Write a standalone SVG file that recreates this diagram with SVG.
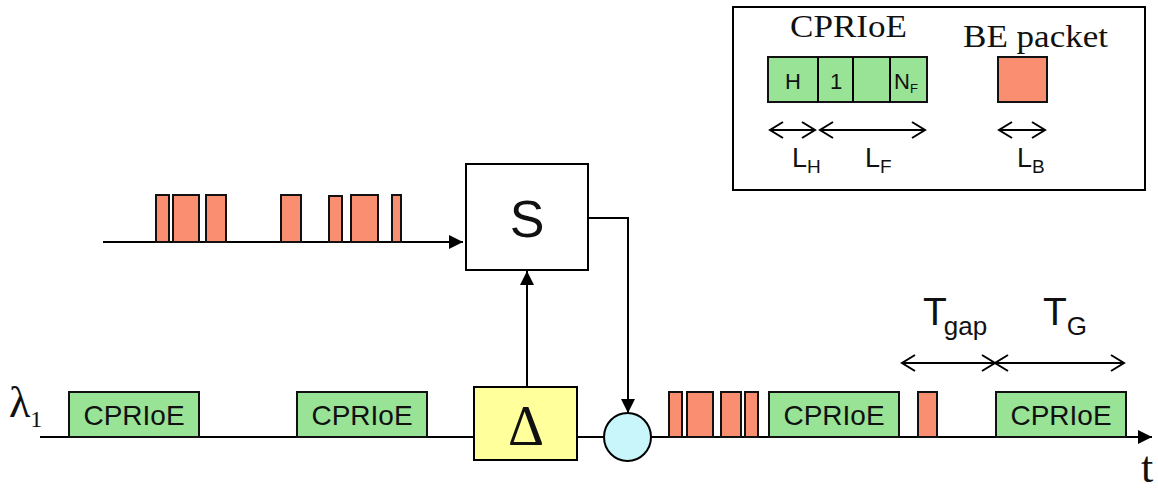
<svg xmlns="http://www.w3.org/2000/svg" width="1158" height="492" viewBox="0 0 1158 492">
<style>
.ln{stroke:#000;stroke-width:2;fill:none}
.cp{fill:#99e396;stroke:#111;stroke-width:2}
.be{fill:#fa8e70;stroke:#111;stroke-width:2}
.sans{font-family:"Liberation Sans",Arial,sans-serif;fill:#111}
.serif{font-family:"Liberation Serif","Times New Roman",serif;fill:#111}
.lbl{font-size:28px;text-anchor:middle}
</style>
<defs>
<marker id="fa" markerUnits="userSpaceOnUse" markerWidth="16" markerHeight="16" refX="14" refY="7" orient="auto"><path d="M0,0 L14,7 L0,14 z" fill="#000"/></marker>
<marker id="oa" markerUnits="userSpaceOnUse" markerWidth="18" markerHeight="20" refX="14" refY="9" orient="auto-start-reverse"><path d="M1,1 L14,9 L1,17" fill="none" stroke="#000" stroke-width="2"/></marker>
</defs>
<rect width="1158" height="492" fill="#fff"/>

<g id="legend">
<rect x="733" y="7" width="412" height="183" fill="#fff" stroke="#000" stroke-width="2"/>
<text class="serif" x="790" y="37" font-size="32" textLength="117" lengthAdjust="spacingAndGlyphs">CPRIoE</text>
<text class="serif" x="963" y="47" font-size="32" textLength="145" lengthAdjust="spacingAndGlyphs">BE packet</text>
<rect class="cp" x="768" y="57" width="159" height="45"/>
<line class="ln" x1="818" y1="57" x2="818" y2="102"/>
<line class="ln" x1="853" y1="57" x2="853" y2="102"/>
<line class="ln" x1="890" y1="57" x2="890" y2="102"/>
<text class="sans" x="793" y="89" font-size="22" text-anchor="middle">H</text>
<text class="sans" x="836" y="89" font-size="22" text-anchor="middle">1</text>
<text class="sans" x="894" y="89" font-size="22">N<tspan font-size="13" dy="4">F</tspan></text>
<rect class="be" x="998" y="57" width="49" height="45"/>
<line class="ln" x1="770" y1="130" x2="815" y2="130" marker-start="url(#oa)" marker-end="url(#oa)"/>
<line class="ln" x1="820" y1="130" x2="925" y2="130" marker-start="url(#oa)" marker-end="url(#oa)"/>
<line class="ln" x1="999" y1="130" x2="1045" y2="130" marker-start="url(#oa)" marker-end="url(#oa)"/>
<text class="sans" x="792" y="167" font-size="27">L<tspan font-size="19" dy="6">H</tspan></text>
<text class="sans" x="865" y="167" font-size="27">L<tspan font-size="19" dy="6">F</tspan></text>
<text class="sans" x="1017" y="167" font-size="27">L<tspan font-size="19" dy="6">B</tspan></text>
</g>

<g id="connectors">
<line class="ln" x1="103" y1="242" x2="463" y2="242" marker-end="url(#fa)"/>
<polyline class="ln" points="588,218 628,218 628,413" marker-end="url(#fa)"/>
<line class="ln" x1="527" y1="387" x2="527" y2="271" marker-end="url(#fa)"/>
<line class="ln" x1="40" y1="437" x2="474" y2="437"/>
<line class="ln" x1="577" y1="437" x2="604" y2="437"/>
<line class="ln" x1="651" y1="437" x2="1152" y2="437" marker-end="url(#fa)"/>
<line class="ln" x1="902" y1="363" x2="995" y2="363" marker-start="url(#oa)" marker-end="url(#oa)"/>
<line class="ln" x1="995" y1="363" x2="1124" y2="363" marker-start="url(#oa)" marker-end="url(#oa)"/>
</g>

<g id="input-packets">
<rect class="be" x="156" y="195" width="13" height="47"/>
<rect class="be" x="173" y="195" width="26" height="47"/>
<rect class="be" x="206" y="195" width="20" height="47"/>
<rect class="be" x="281" y="195" width="20" height="47"/>
<rect class="be" x="329" y="196" width="13" height="46"/>
<rect class="be" x="351" y="195" width="27" height="47"/>
<rect class="be" x="392" y="195" width="9" height="47"/>
</g>

<g id="S">
<rect x="466" y="164" width="122" height="106" fill="#fff" stroke="#000" stroke-width="2"/>
<text class="sans" x="527" y="237" font-size="52" text-anchor="middle">S</text>
</g>

<g id="delta">
<rect x="474" y="387" width="103" height="73" fill="#ffff9c" stroke="#000" stroke-width="2"/>
<text class="serif" x="526" y="445" font-size="56" text-anchor="middle">Δ</text>
</g>

<g id="combiner">
<ellipse cx="627.5" cy="437" rx="23.5" ry="24" fill="#c8f6fb" stroke="#000" stroke-width="2"/>
</g>

<g id="lambda">
<text class="serif" x="9" y="417" font-size="44">λ<tspan font-size="24" dy="10">1</tspan></text>
</g>

<g id="cpri-1"><rect class="cp" x="69" y="392" width="130" height="45"/><text class="sans lbl" x="134" y="425">CPRIoE</text></g>
<g id="cpri-2"><rect class="cp" x="297" y="392" width="130" height="45"/><text class="sans lbl" x="362" y="425">CPRIoE</text></g>
<g id="output-packets">
<rect class="be" x="669" y="392" width="13" height="45"/>
<rect class="be" x="687" y="392" width="26" height="45"/>
<rect class="be" x="721" y="392" width="20" height="45"/>
<rect class="be" x="745" y="392" width="13" height="45"/>
<rect class="be" x="918" y="392" width="19" height="45"/>
</g>
<g id="cpri-3"><rect class="cp" x="769" y="392" width="130" height="45"/><text class="sans lbl" x="834" y="425">CPRIoE</text></g>
<g id="cpri-4"><rect class="cp" x="996" y="392" width="130" height="45"/><text class="sans lbl" x="1061" y="425">CPRIoE</text></g>

<g id="labels">
<text class="sans" x="923" y="325" font-size="39">T<tspan font-size="26" dy="10" dx="-3">gap</tspan></text>
<text class="sans" x="1043" y="325" font-size="39">T<tspan font-size="26" dy="10">G</tspan></text>
<text class="serif" x="1147" y="482" font-size="44" text-anchor="middle">t</text>
</g>
</svg>
